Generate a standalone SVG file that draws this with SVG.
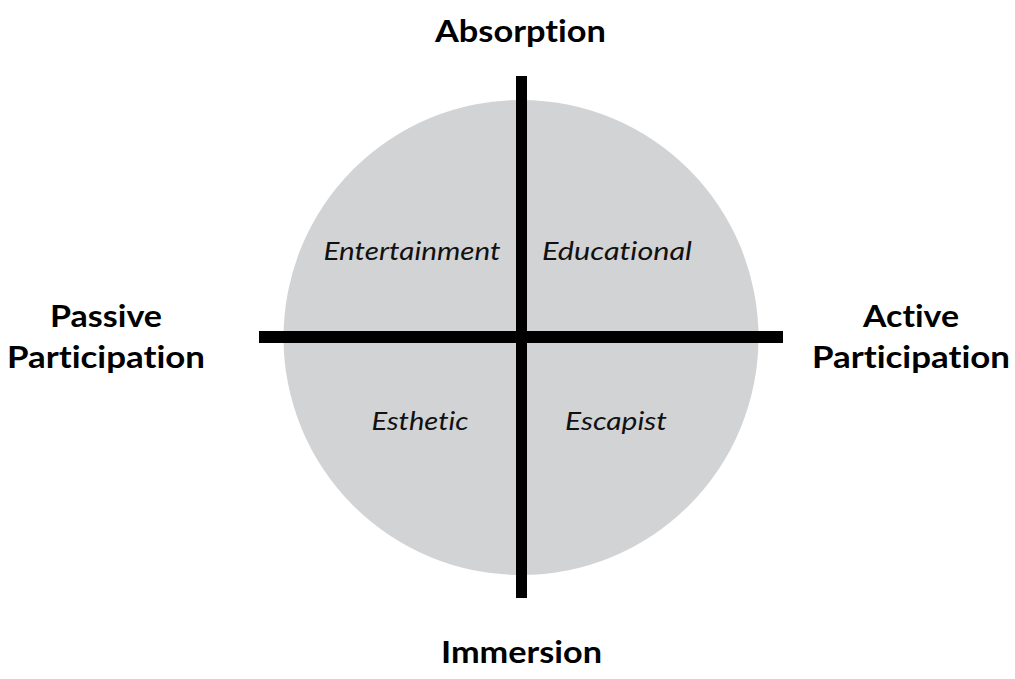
<svg xmlns="http://www.w3.org/2000/svg" width="1015" height="679" viewBox="0 0 1015 679">
<style>
text{font-variant-ligatures:none}
.axis{font-family:Lato,"Liberation Sans",sans-serif;font-weight:bold;font-size:31px;fill:#000;text-anchor:middle}
.q{font-family:Lato,"Liberation Sans",sans-serif;font-style:italic;font-size:25px;fill:#111;text-anchor:middle}
.bar{fill:#000}
</style>
<rect width="1015" height="679" fill="#fff"/>
<g id="circle"><circle cx="521" cy="337.5" r="237.5" fill="#d2d3d5"/></g>
<g id="connectors">
<rect class="bar" x="516" y="76" width="11" height="522"/>
<rect class="bar" x="259" y="331" width="524" height="12"/>
</g>
<g id="absorption"><text class="axis" x="520.5" y="42" textLength="171" lengthAdjust="spacingAndGlyphs">Absorption</text></g>
<g id="immersion"><text class="axis" x="521.5" y="663" textLength="161" lengthAdjust="spacingAndGlyphs">Immersion</text></g>
<g id="passive"><text class="axis" x="106" y="327" textLength="112" lengthAdjust="spacingAndGlyphs">Passive</text><text class="axis" x="106" y="368" textLength="198" lengthAdjust="spacingAndGlyphs">Participation</text></g>
<g id="active"><text class="axis" x="911" y="327" textLength="96" lengthAdjust="spacingAndGlyphs">Active</text><text class="axis" x="911" y="368" textLength="198" lengthAdjust="spacingAndGlyphs">Participation</text></g>
<g id="entertainment"><text class="q" x="412" y="260" textLength="177" lengthAdjust="spacingAndGlyphs">Entertainment</text></g>
<g id="educational"><text class="q" x="617" y="260" textLength="150" lengthAdjust="spacingAndGlyphs">Educational</text></g>
<g id="esthetic"><text class="q" x="420" y="430" textLength="97" lengthAdjust="spacingAndGlyphs">Esthetic</text></g>
<g id="escapist"><text class="q" x="616" y="430" textLength="102" lengthAdjust="spacingAndGlyphs">Escapist</text></g>
</svg>
